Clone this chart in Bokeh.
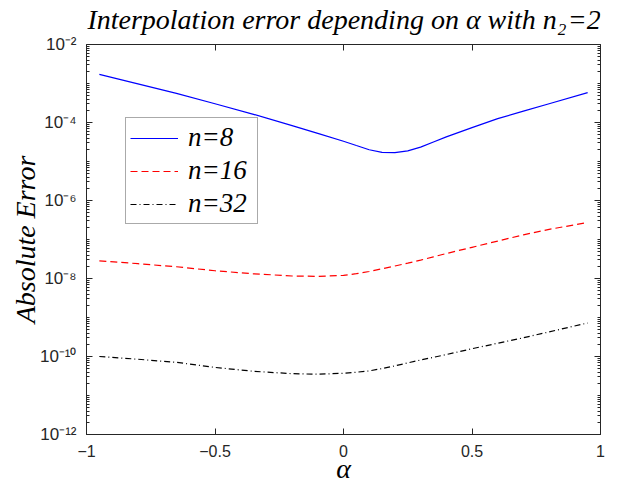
from bokeh.plotting import figure
from bokeh.models import (FixedTicker, LinearAxis, LogAxis, Legend, LegendItem,
                          Range1d, CustomJSTickFormatter, GridBox)
from bokeh.core.properties import value
from bokeh.embed import file_html
from bokeh.resources import INLINE

# ---- data ----
alpha = [-0.95, -0.8, -0.65, -0.5, -0.35, -0.2, -0.1, 0.0, 0.05, 0.1, 0.15, 0.2, 0.25,
         0.3, 0.35, 0.4, 0.5, 0.6, 0.7, 0.8, 0.95]
err_n8 = [1.72e-3, 9.77e-4, 5.56e-4, 3.02e-4, 1.62e-4, 8.32e-5, 5.28e-5, 3.31e-5, 2.57e-5,
          2.0e-5, 1.72e-5, 1.68e-5, 1.88e-5, 2.34e-5, 3.16e-5, 4.27e-5, 7.41e-5, 1.26e-4,
          1.95e-4, 3.02e-4, 5.82e-4]
err_n16 = [2.84e-8, 2.40e-8, 2.0e-8, 1.58e-8, 1.32e-8, 1.16e-8, 1.135e-8, 1.20e-8, 1.33e-8,
           1.51e-8, 1.78e-8, 2.09e-8, 2.48e-8, 2.95e-8, 3.59e-8, 4.37e-8, 6.31e-8, 9.12e-8,
           1.32e-7, 1.82e-7, 2.72e-7]
err_n32 = [1.0e-10, 8.51e-11, 7.08e-11, 5.25e-11, 4.17e-11, 3.63e-11, 3.51e-11, 3.72e-11, 3.95e-11,
           4.27e-11, 4.90e-11, 5.75e-11, 6.84e-11, 8.13e-11, 9.55e-11, 1.12e-10, 1.58e-10,
           2.19e-10, 3.02e-10, 4.27e-10, 7.24e-10]
series_labels = ["n=8", "n=16", "n=32"]
title_parts = ["Interpolation error depending on \u03b1 with n", "2", "=2"]
x_label = "\u03b1"
y_label = "Absolute Error"
x_ticks = [-1, -0.5, 0, 0.5, 1]
y_ticks = [1e-12, 1e-10, 1e-8, 1e-6, 1e-4, 1e-2]
y_minor = [m * 10.0 ** k for k in range(-12, -2) for m in range(1, 10)]

AX = "#262626"
SERIF = "Liberation Serif"
SANS = "Liberation Sans"

W = 612
TH = 44          # title strip height (overlaid on the top border of the plot)
H = 486

# ---- title strip (transparent, overlaid) ----
tf = figure(width=W, height=TH, x_range=Range1d(0, W), y_range=Range1d(0, TH),
            x_axis_location=None, y_axis_location=None, output_backend="svg",
            toolbar_location=None, min_border=0)
tf.outline_line_color = None
tf.background_fill_color = None
tf.border_fill_color = None
tf.xgrid.visible = False
tf.ygrid.visible = False
tf.text(x=[560], y=[TH - 23], text=[title_parts[0]], text_font=value(SERIF),
        text_font_style="italic", text_font_size="28px", text_align="right",
        text_baseline="alphabetic", text_color="black")
tf.text(x=[561], y=[13], text=[title_parts[1]], text_font=value(SERIF),
        text_font_style="italic", text_font_size="17px", text_align="left",
        text_baseline="alphabetic", text_color="black")
tf.text(x=[573], y=[TH - 23], text=[title_parts[2]], text_font=value(SERIF),
        text_font_style="italic", text_font_size="28px", text_align="left",
        text_baseline="alphabetic", text_color="black")

# ---- main plot ----
p = figure(width=W, height=H, x_range=Range1d(-1, 1), y_range=Range1d(1e-12, 1e-2),
           y_axis_type="log", output_backend="svg", toolbar_location=None,
           min_border_left=86, min_border_right=12, min_border_top=TH, min_border_bottom=50)
p.outline_line_color = None
p.xgrid.visible = False
p.ygrid.visible = False

def style_axis(ax):
    ax.axis_line_color = AX
    ax.axis_line_width = 1
    ax.major_tick_line_color = AX
    ax.minor_tick_line_color = AX
    ax.major_tick_in = 6
    ax.major_tick_out = 0
    ax.minor_tick_in = 3
    ax.minor_tick_out = 0
    ax.major_label_text_color = AX
    ax.major_label_text_font = SANS
    ax.major_label_text_font_size = "16px"
    ax.axis_label_text_font = SERIF
    ax.axis_label_text_font_style = "italic"
    ax.axis_label_text_font_size = "28px"
    ax.axis_label_text_color = "black"

xa = p.xaxis[0]
xa.ticker = FixedTicker(ticks=x_ticks, minor_ticks=[])
style_axis(xa)
xa.major_label_standoff = 10
xa.axis_label = x_label
xa.axis_label_standoff = -7

sup_code = """
const e = Math.round(Math.log10(tick));
const sup = {"-": "\\u207b", "0": "\\u2070", "1": "\\u00b9", "2": "\\u00b2", "3": "\\u00b3",
             "4": "\\u2074", "5": "\\u2075", "6": "\\u2076", "7": "\\u2077", "8": "\\u2078",
             "9": "\\u2079"};
return "10" + String(e).split("").map(c => sup[c]).join("");
"""

ya = p.yaxis[0]
ya.ticker = FixedTicker(ticks=y_ticks, minor_ticks=y_minor)
ya.formatter = CustomJSTickFormatter(code=sup_code)
style_axis(ya)
ya.major_label_text_font_size = "17px"
ya.major_label_standoff = 10
ya.axis_label = y_label
ya.axis_label_standoff = -4

top = LinearAxis(ticker=FixedTicker(ticks=x_ticks, minor_ticks=[]),
                 formatter=CustomJSTickFormatter(code="return ''"))
style_axis(top)
top.major_label_text_font_size = "1px"
top.major_label_standoff = 0
p.add_layout(top, "above")

right = LogAxis(ticker=FixedTicker(ticks=y_ticks, minor_ticks=y_minor),
                formatter=CustomJSTickFormatter(code="return ''"))
style_axis(right)
right.major_label_text_font_size = "1px"
right.major_label_standoff = 0
p.add_layout(right, "right")

r1 = p.line(alpha, err_n8, line_color="#0000ff", line_width=1.2)
r2 = p.line(alpha, err_n16, line_color="#ff0000", line_width=1.2, line_dash="7 4")
r3 = p.line(alpha, err_n32, line_color="#000000", line_width=1.2, line_dash="6 3 1 3")

legend = Legend(items=[LegendItem(label=series_labels[0], renderers=[r1]),
                       LegendItem(label=series_labels[1], renderers=[r2]),
                       LegendItem(label=series_labels[2], renderers=[r3])],
                location=(39, 210), padding=4, margin=0, spacing=2,
                glyph_width=48, glyph_height=28, label_height=28, label_width=65,
                label_standoff=10, label_text_font=SERIF, label_text_font_style="italic",
                label_text_font_size="27px", label_text_color="black",
                border_line_color="#555555", border_line_width=1,
                background_fill_color="white", background_fill_alpha=1.0)
p.add_layout(legend)

layout = GridBox(children=[(p, 0, 0), (tf, 0, 0)])
open("out.html", "w").write(file_html(layout, INLINE))
